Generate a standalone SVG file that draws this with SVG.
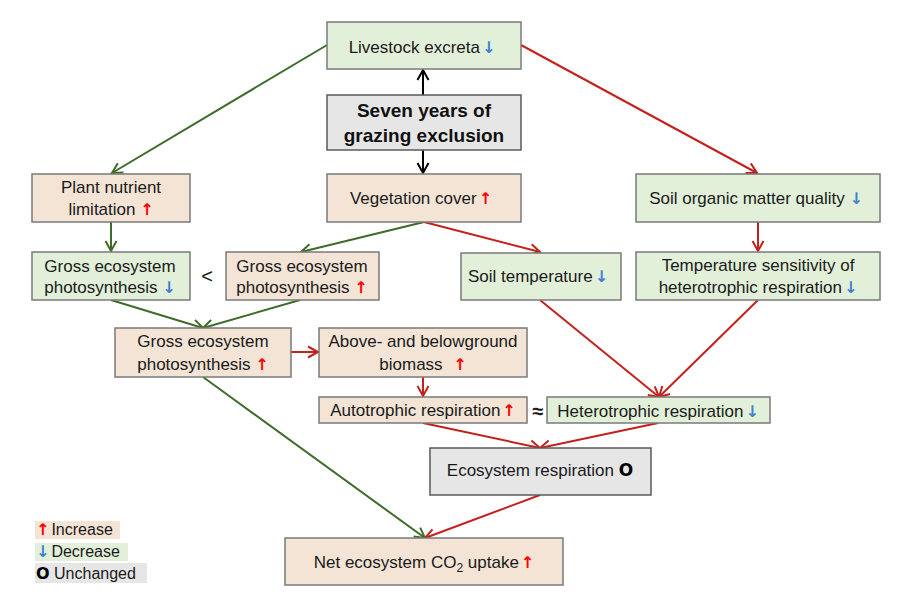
<svg xmlns="http://www.w3.org/2000/svg" width="900" height="605" viewBox="0 0 900 605">
<style>
.box{stroke:#7a7a7a;stroke-width:1.5}
.beige{fill:#f3e4d5}
.green{fill:#e2f0d9}
.gray{fill:#e7e6e6}
.t{font-family:"Liberation Sans",Arial,sans-serif;font-size:17px;fill:#1a1a1a;text-anchor:middle}
.b{font-family:"Liberation Sans",Arial,sans-serif;font-size:19px;font-weight:bold;fill:#111;text-anchor:middle}
.up{fill:#ff0000;font-family:"DejaVu Sans",sans-serif;font-weight:bold;font-size:16px}
.dn{fill:#3f7fd4;font-family:"DejaVu Sans",sans-serif;font-weight:bold;font-size:16px}
.o{font-family:"DejaVu Sans",sans-serif;font-weight:bold;fill:#000}
.lg{font-family:"Liberation Sans",Arial,sans-serif;font-size:16px;fill:#1a1a1a}
.cg{stroke:#3f6b2b;stroke-width:2;fill:none}
.cr{stroke:#c4211c;stroke-width:2;fill:none}
.ck{stroke:#000;stroke-width:2;fill:none}
</style>
<defs>
<marker id="aG" markerUnits="userSpaceOnUse" markerWidth="16" markerHeight="16" refX="12" refY="7" orient="auto"><path d="M2,1.5 L12,7 L2,12.5" fill="none" stroke="#3f6b2b" stroke-width="2"/></marker>
<marker id="aR" markerUnits="userSpaceOnUse" markerWidth="16" markerHeight="16" refX="12" refY="7" orient="auto"><path d="M2,1.5 L12,7 L2,12.5" fill="none" stroke="#c4211c" stroke-width="2"/></marker>
<marker id="aK" markerUnits="userSpaceOnUse" markerWidth="16" markerHeight="16" refX="12" refY="7" orient="auto"><path d="M2,1.5 L12,7 L2,12.5" fill="none" stroke="#000" stroke-width="2"/></marker>
</defs>
<rect width="900" height="605" fill="#fff"/>

<g id="connectors">
<line class="ck" x1="423" y1="95" x2="423" y2="70" marker-end="url(#aK)"/>
<line class="ck" x1="423" y1="150" x2="423" y2="173" marker-end="url(#aK)"/>
<line class="cg" x1="327" y1="45" x2="112" y2="173" marker-end="url(#aG)"/>
<line class="cr" x1="521" y1="45" x2="757" y2="173" marker-end="url(#aR)"/>
<line class="cg" x1="111" y1="222" x2="111" y2="251" marker-end="url(#aG)"/>
<line class="cr" x1="758" y1="222" x2="758" y2="251" marker-end="url(#aR)"/>
<line class="cg" x1="424" y1="222" x2="301" y2="252" marker-end="url(#aG)"/>
<line class="cr" x1="424" y1="222" x2="540" y2="252" marker-end="url(#aR)"/>
<line class="cg" x1="111" y1="300" x2="203" y2="328" marker-end="url(#aG)"/>
<line class="cg" x1="300" y1="300" x2="203" y2="328" marker-end="url(#aG)"/>
<line class="cr" x1="291" y1="352" x2="318" y2="352" marker-end="url(#aR)"/>
<line class="cr" x1="423" y1="377" x2="423" y2="396" marker-end="url(#aR)"/>
<line class="cr" x1="540" y1="300" x2="659" y2="397" marker-end="url(#aR)"/>
<line class="cr" x1="758" y1="300" x2="659" y2="397" marker-end="url(#aR)"/>
<line class="cr" x1="423" y1="423" x2="540" y2="448" marker-end="url(#aR)"/>
<line class="cr" x1="658" y1="423" x2="540" y2="448" marker-end="url(#aR)"/>
<line class="cg" x1="203" y1="377" x2="425" y2="538" marker-end="url(#aG)"/>
<line class="cr" x1="540" y1="495" x2="425" y2="538" marker-end="url(#aR)"/>
</g>

<g id="livestock"><rect class="box green" x="327" y="22" width="194" height="47"/><text class="t" x="422" y="53">Livestock excreta<tspan class="dn" dx="2">↓</tspan></text></g>
<g id="grazing"><rect class="box gray" x="327" y="95" width="194" height="55" style="stroke:#5a5a5a"/><text class="b" x="424" y="117">Seven years of</text><text class="b" x="424" y="142">grazing exclusion</text></g>
<g id="nutrient"><rect class="box beige" x="32" y="174" width="158" height="48"/><text class="t" x="111" y="193">Plant nutrient</text><text class="t" x="111" y="215">limitation <tspan class="up">↑</tspan></text></g>
<g id="vegetation"><rect class="box beige" x="327" y="174" width="194" height="48"/><text class="t" x="421" y="204">Vegetation cover<tspan class="up" dx="2">↑</tspan></text></g>
<g id="som"><rect class="box green" x="636" y="174" width="244" height="48"/><text class="t" x="756" y="204">Soil organic matter quality <tspan class="dn">↓</tspan></text></g>
<g id="gep-down"><rect class="box green" x="32" y="252" width="158" height="48"/><text class="t" x="110" y="272">Gross ecosystem</text><text class="t" x="110" y="293">photosynthesis <tspan class="dn">↓</tspan></text></g>
<text class="t" x="207" y="283" style="font-size:20px">&lt;</text>
<g id="gep-up"><rect class="box beige" x="226" y="252" width="153" height="48"/><text class="t" x="302" y="272">Gross ecosystem</text><text class="t" x="302" y="293">photosynthesis <tspan class="up">↑</tspan></text></g>
<g id="soiltemp"><rect class="box green" x="461" y="253" width="160" height="47"/><text class="t" x="538" y="282">Soil temperature<tspan class="dn" dx="2">↓</tspan></text></g>
<g id="tempsens"><rect class="box green" x="636" y="252" width="244" height="48"/><text class="t" x="758" y="271">Temperature sensitivity of</text><text class="t" x="758" y="293">heterotrophic respiration<tspan class="dn" dx="2">↓</tspan></text></g>
<g id="gep"><rect class="box beige" x="115" y="328" width="176" height="49"/><text class="t" x="203" y="347">Gross ecosystem</text><text class="t" x="203" y="370">photosynthesis <tspan class="up">↑</tspan></text></g>
<g id="biomass"><rect class="box beige" x="319" y="328" width="208" height="49"/><text class="t" x="423" y="347">Above- and belowground</text><text class="t" x="423" y="370">biomass <tspan class="up" dx="6">↑</tspan></text></g>
<g id="autotrophic"><rect class="box beige" x="319" y="397" width="208" height="26"/><text class="t" x="423" y="416">Autotrophic respiration<tspan class="up" dx="2">↑</tspan></text></g>
<text class="t" x="538" y="418" style="font-weight:bold;font-size:20px">≈</text>
<g id="heterotrophic"><rect class="box green" x="547" y="397" width="223" height="26"/><text class="t" x="658" y="417">Heterotrophic respiration<tspan class="dn" dx="2">↓</tspan></text></g>
<g id="ecoresp"><rect class="box gray" x="430" y="448" width="221" height="47" style="stroke:#5a5a5a"/><text class="t" x="540" y="476">Ecosystem respiration <tspan class="o">O</tspan></text></g>
<g id="nee"><rect class="box beige" x="285" y="538" width="278" height="47"/><text class="t" x="424" y="568">Net ecosystem CO<tspan dy="4" style="font-size:12px">2</tspan><tspan dy="-4"> uptake</tspan><tspan class="up" dx="2">↑</tspan></text></g>

<g id="legend">
<rect x="35" y="521" width="85" height="18" fill="#f3e4d5"/>
<text class="lg" x="36" y="535"><tspan class="up">↑</tspan><tspan dx="2">Increase</tspan></text>
<rect x="35" y="543" width="93" height="18" fill="#e2f0d9"/>
<text class="lg" x="36" y="557"><tspan class="dn">↓</tspan><tspan dx="2">Decrease</tspan></text>
<rect x="35" y="563" width="112" height="20" fill="#e7e6e6"/>
<text class="lg" x="36" y="579"><tspan class="o">O</tspan> Unchanged</text>
</g>
</svg>
